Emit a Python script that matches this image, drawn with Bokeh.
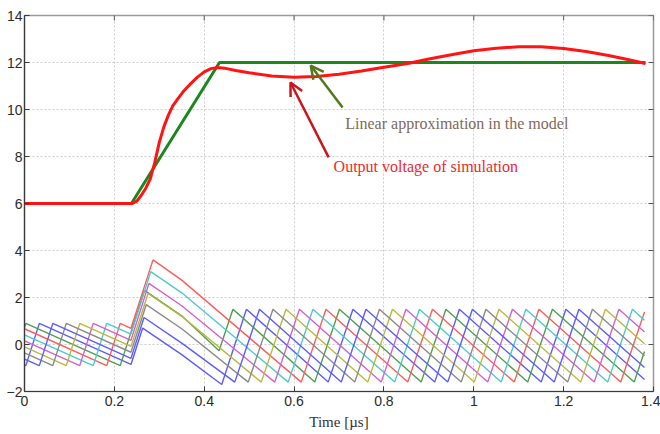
import math
from bokeh.plotting import figure
from bokeh.models import Range1d, FixedTicker, Label, Arrow, OpenHead
from bokeh.embed import file_html
from bokeh.resources import INLINE

# ---------------- data ----------------
x_ticks = [0, 0.2, 0.4, 0.6, 0.8, 1.0, 1.2, 1.4]
x_tick_labels = ["0", "0.2", "0.4", "0.6", "0.8", "1", "1.2", "1.4"]
y_ticks = [-2, 0, 2, 4, 6, 8, 10, 12, 14]

# output voltage of simulation (red)
vout_t = [0, 0.24, 0.25, 0.26, 0.27, 0.28, 0.29, 0.30, 0.31, 0.32, 0.33, 0.342, 0.355, 0.37,
          0.385, 0.40, 0.415, 0.43, 0.445, 0.47, 0.5, 0.55, 0.6, 0.65, 0.7, 0.75, 0.8, 0.853,
          0.9, 0.95, 1.0, 1.05, 1.1, 1.15, 1.2, 1.25, 1.3, 1.34, 1.382]
vout_v = [6.0, 6.0, 6.1, 6.35, 6.65, 7.05, 7.75, 8.6, 9.25, 9.75, 10.15, 10.47, 10.8, 11.1,
          11.38, 11.6, 11.74, 11.79, 11.76, 11.66, 11.56, 11.43, 11.37, 11.4, 11.5, 11.64, 11.8, 11.96,
          12.15, 12.33, 12.5, 12.61, 12.67, 12.67, 12.6, 12.47, 12.3, 12.14, 11.96]

# linear approximation in the model (green)
lin_t = [0, 0.238, 0.434, 1.382]
lin_v = [6.0, 6.0, 12.0, 12.0]

# phase currents (8 phases), vertices
ph_green_t = [0, 0.003, 0.213, 0.267, 0.35, 0.433, 0.464, 0.646, 0.701, 0.883, 0.938, 1.120, 1.175, 1.357, 1.38]
ph_green_v = [0.72, 0.9, -0.9, 2.3, 1.22, -0.27, 1.5, -1.6, 1.5, -1.6, 1.5, -1.6, 1.5, -1.6, -0.3]

ph_blue1_t = [0, 0.003, 0.033, 0.237, 0.263, 0.35, 0.439, 0.494, 0.676, 0.731, 0.913, 0.968, 1.150, 1.205, 1.38]
ph_blue1_v = [-0.87, -0.9, 0.9, -0.85, 0.7, -0.43, -1.7, 1.5, -1.6, 1.5, -1.6, 1.5, -1.6, 1.5, -1.49]

ph_blue8_t = [0, 0.033, 0.063, 0.237, 0.266, 0.35, 0.468, 0.523, 0.705, 0.760, 0.942, 0.997, 1.179, 1.234, 1.38]
ph_blue8_v = [-0.62, -0.9, 0.9, -0.59, 1.15, 0.06, -1.6, 1.5, -1.6, 1.5, -1.6, 1.5, -1.6, 1.5, -0.98]

ph_gray_t = [0, 0.063, 0.093, 0.237, 0.271, 0.35, 0.498, 0.553, 0.735, 0.790, 0.972, 1.027, 1.209, 1.264, 1.38]
ph_gray_v = [-0.36, -0.9, 0.9, -0.33, 1.7, 0.67, -1.6, 1.5, -1.6, 1.5, -1.6, 1.5, -1.6, 1.5, -0.48]

ph_olive_t = [0, 0.093, 0.123, 0.237, 0.275, 0.35, 0.527, 0.582, 0.764, 0.819, 1.001, 1.056, 1.238, 1.293, 1.38]
ph_olive_v = [-0.1, -0.9, 0.9, -0.08, 2.17, 1.2, -1.6, 1.5, -1.6, 1.5, -1.6, 1.5, -1.6, 1.5, 0.03]

ph_magenta_t = [0, 0.123, 0.153, 0.237, 0.277, 0.35, 0.557, 0.612, 0.794, 0.849, 1.031, 1.086, 1.268, 1.323, 1.38]
ph_magenta_v = [0.15, -0.9, 0.9, 0.18, 2.6, 1.65, -1.6, 1.5, -1.6, 1.5, -1.6, 1.5, -1.6, 1.5, 0.53]

ph_cyan_t = [0, 0.153, 0.183, 0.237, 0.281, 0.35, 0.587, 0.642, 0.824, 0.879, 1.061, 1.116, 1.298, 1.353, 1.38]
ph_cyan_v = [0.41, -0.9, 0.9, 0.44, 3.1, 2.2, -1.6, 1.5, -1.6, 1.5, -1.6, 1.5, -1.6, 1.5, 1.03]

ph_red_t = [0, 0.183, 0.213, 0.237, 0.286, 0.35, 0.616, 0.671, 0.853, 0.908, 1.090, 1.145, 1.327, 1.38]
ph_red_v = [0.67, -0.9, 0.9, 0.69, 3.6, 2.74, -1.6, 1.5, -1.6, 1.5, -1.6, 1.5, -1.6, 1.38]

phases = [
    (ph_blue1_t, ph_blue1_v, "#5c5cff"),
    (ph_green_t, ph_green_v, "#4f9f4f"),
    (ph_red_t, ph_red_v, "#ff5c5c"),
    (ph_cyan_t, ph_cyan_v, "#4fcaca"),
    (ph_magenta_t, ph_magenta_v, "#d062d0"),
    (ph_olive_t, ph_olive_v, "#b9b940"),
    (ph_gray_t, ph_gray_v, "#8a8a8a"),
    (ph_blue8_t, ph_blue8_v, "#5c5cff"),
]

# ---------------- figure ----------------
p = figure(width=660, height=434, x_range=Range1d(x_ticks[0], x_ticks[-1]),
           y_range=Range1d(y_ticks[0], y_ticks[-1]),
           output_backend="svg", toolbar_location=None,
           min_border_left=24, min_border_right=7, min_border_top=15, min_border_bottom=43)
p.background_fill_color = "white"
p.border_fill_color = "white"
p.outline_line_color = "#9a9a9a"
p.outline_line_width = 1.5

tick_font = "Liberation Sans"
for ax in (p.xaxis[0], p.yaxis[0]):
    ax.axis_line_color = "#3a3a3a"
    ax.axis_line_width = 1.2
    ax.major_tick_in = 5
    ax.major_tick_out = 0
    ax.major_tick_line_color = "#3a3a3a"
    ax.minor_tick_line_color = None
    ax.major_label_text_font = tick_font
    ax.major_label_text_font_size = "14px"
    ax.major_label_text_color = "#2b2b2b"

p.xaxis[0].ticker = FixedTicker(ticks=x_ticks)
p.xaxis[0].major_label_overrides = {t: l for t, l in zip(x_ticks, x_tick_labels)}
p.xaxis[0].major_label_standoff = 4
p.xaxis[0].axis_label = "Time [µs]"
p.xaxis[0].axis_label_text_font = "Liberation Serif"
p.xaxis[0].axis_label_text_font_style = "normal"
p.xaxis[0].axis_label_text_font_size = "15px"
p.xaxis[0].axis_label_text_color = "#333333"
p.xaxis[0].axis_label_standoff = 5

p.yaxis[0].ticker = FixedTicker(ticks=y_ticks)
p.yaxis[0].major_label_standoff = 2

p.xgrid.ticker = FixedTicker(ticks=x_ticks)
p.ygrid.ticker = FixedTicker(ticks=y_ticks)
for g in (p.xgrid[0], p.ygrid[0]):
    g.grid_line_color = "#cdcdcd"
    g.grid_line_dash = "2 2"
    g.grid_line_width = 1

# inward ticks on the right and top edges of the box (clipped dash markers)
p.scatter([x_ticks[-1]] * len(y_ticks), y_ticks, marker="dash", size=10,
          line_color="#555555", line_width=1)
p.scatter(x_ticks, [y_ticks[-1]] * len(x_ticks), marker="dash", size=10, angle=math.pi / 2,
          line_color="#555555", line_width=1)

# phase currents
for t, v, c in phases:
    p.line(t, v, line_color=c, line_width=1.4)

# linear approximation and output voltage
p.line(lin_t, lin_v, line_color="#1c871c", line_width=3)
p.line(vout_t, vout_v, line_color="#ff1414", line_width=3)

# annotations
p.add_layout(Label(x=0.714, y=9.40, text="Linear approximation in the model",
                   text_font="Liberation Serif", text_font_size="16px",
                   text_color="#806a5a", text_baseline="middle"))
p.add_layout(Label(x=0.688, y=7.57, text="Output voltage of simulation",
                   text_font="Liberation Serif", text_font_size="16px",
                   text_color="#ee2a2a", text_baseline="middle"))

p.add_layout(Arrow(end=OpenHead(size=13, line_color="#52781e", line_width=2.5),
                   x_start=0.708, y_start=10.09, x_end=0.637, y_end=11.87,
                   line_color="#52781e", line_width=2.5))
p.add_layout(Arrow(end=OpenHead(size=13, line_color="#c8161e", line_width=2.5),
                   x_start=0.677, y_start=7.96, x_end=0.592, y_end=11.15,
                   line_color="#c8161e", line_width=2.5))

open("out.html", "w").write(file_html(p, INLINE))
